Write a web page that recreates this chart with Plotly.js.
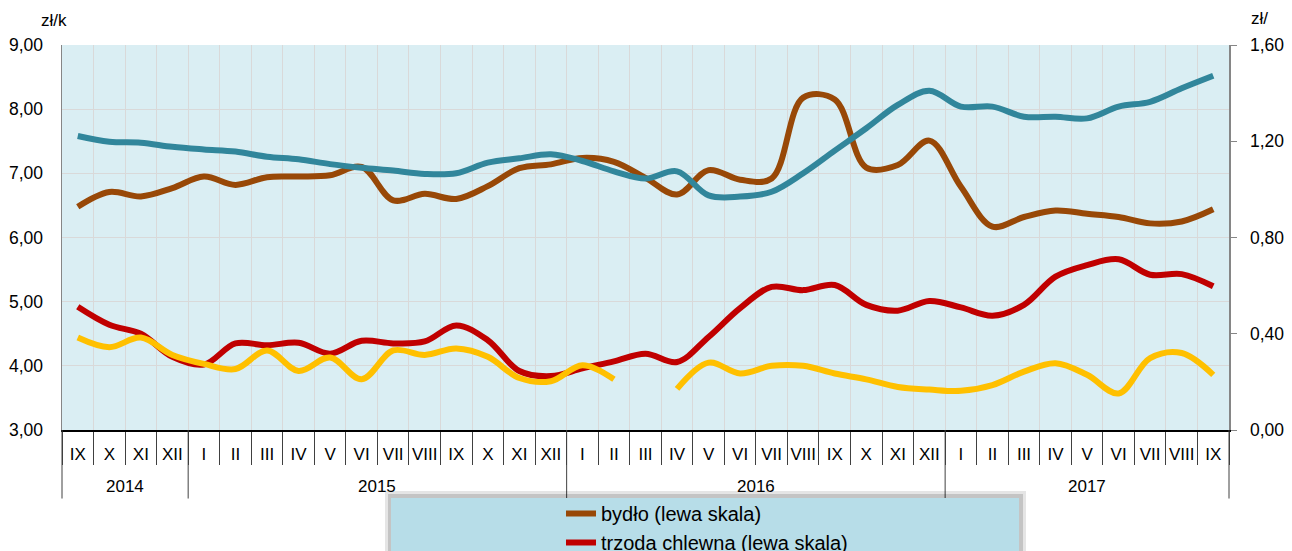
<!DOCTYPE html>
<html>
<head>
<meta charset="utf-8">
<script src="https://cdn.plot.ly/plotly-3.0.1.min.js"></script>
<style>
  html, body { margin: 0; padding: 0; background: #ffffff; }
  #chart { width: 1292px; height: 551px; }
</style>
</head>
<body>
<div id="chart"></div>
<script>
// ---- DATA ----
const months = ['IX','X','XI','XII',
  'I','II','III','IV','V','VI','VII','VIII','IX','X','XI','XII',
  'I','II','III','IV','V','VI','VII','VIII','IX','X','XI','XII',
  'I','II','III','IV','V','VI','VII','VIII','IX'];
const years = ['2014','2015','2016','2017'];
const monthsPerYear = [4, 12, 12, 9];

// bydło (left scale, zł/kg)
const bydlo = [6.48, 6.71, 6.64, 6.77, 6.95, 6.82, 6.94, 6.95, 6.97, 7.10, 6.58, 6.68,
  6.60, 6.80, 7.08, 7.14, 7.24, 7.18, 6.93, 6.67, 7.05, 6.90, 6.92, 8.18, 8.15, 7.09,
  7.13, 7.51, 6.79, 6.17, 6.32, 6.42, 6.37, 6.32, 6.22, 6.25, 6.44];
// trzoda chlewna (left scale, zł/kg)
const trzoda = [4.92, 4.64, 4.50, 4.14, 4.02, 4.35, 4.32, 4.36, 4.19, 4.39, 4.35, 4.38,
  4.63, 4.40, 3.92, 3.84, 3.96, 4.07, 4.19, 4.06, 4.45, 4.90, 5.23, 5.18, 5.26, 4.95,
  4.86, 5.01, 4.91, 4.78, 4.95, 5.39, 5.57, 5.66, 5.42, 5.43, 5.24];
// drób (left scale, zł/kg)
const drob = [4.44, 4.29, 4.44, 4.17, 4.03, 3.95, 4.24, 3.92, 4.13, 3.79, 4.24, 4.17,
  4.27, 4.14, 3.81, 3.76, 4.01, 3.79, null, 3.64, 4.05, 3.88, 4.00, 4.00, 3.88, 3.79,
  3.67, 3.63, 3.61, 3.70, 3.91, 4.04, 3.86, 3.57, 4.12, 4.20, 3.86];
// mleko (right scale, zł/l)
const mleko = [1.222, 1.198, 1.194, 1.177, 1.166, 1.157, 1.136, 1.125, 1.105, 1.090, 1.078, 1.064,
  1.067, 1.111, 1.129, 1.146, 1.118, 1.075, 1.045, 1.075, 0.975, 0.970, 0.990, 1.067, 1.161, 1.254,
  1.351, 1.410, 1.344, 1.344, 1.302, 1.302, 1.295, 1.344, 1.364, 1.420, 1.472];

const seriesNames = ['bydło (lewa skala)', 'trzoda chlewna (lewa skala)', 'drób (lewa skala)', 'mleko (prawa skala)'];

// ---- CHART ----
const xs = months.map((_, i) => i);
const n = months.length;
const FONT = 'Liberation Sans, Arial, sans-serif';

function lineTrace(y, name, color, axis) {
  return {
    x: xs, y: y, name: name, type: 'scatter', mode: 'lines', yaxis: axis,
    connectgaps: false, hoverinfo: 'skip',
    line: { color: color, width: 6, shape: 'spline', smoothing: 1 }
  };
}

const data = [
  lineTrace(bydlo, seriesNames[0], '#984807', 'y'),
  lineTrace(trzoda, seriesNames[1], '#c00000', 'y'),
  lineTrace(drob, seriesNames[2], '#ffc000', 'y'),
  lineTrace(mleko, seriesNames[3], '#31869b', 'y2')
];

// year separators and labels
const shapes = [];
const annotations = [];
const toPaper = v => (v + 0.5) / n;
let start = 0;
shapes.push({ type: 'line', xref: 'paper', yref: 'paper', x0: 0, x1: 0, y0: 0, y1: -0.178,
  line: { color: '#404040', width: 1 } });
years.forEach((yr, k) => {
  const cnt = monthsPerYear[k];
  const end = start + cnt - 1;
  annotations.push({ text: yr, xref: 'x', yref: 'paper', x: (start + end) / 2, y: -0.148,
    xanchor: 'center', yanchor: 'middle', showarrow: false, font: { size: 17, family: FONT, color: '#000' } });
  shapes.push({ type: 'line', xref: 'paper', yref: 'paper', x0: toPaper(end + 0.5), x1: toPaper(end + 0.5),
    y0: 0, y1: -0.178, line: { color: '#404040', width: 1 } });
  start += cnt;
});

// axis unit labels
annotations.push({ text: 'zł/k', xref: 'paper', yref: 'paper', x: (39 - 62) / 1167, y: (430 - 20) / 385,
  xanchor: 'left', yanchor: 'middle', showarrow: false, font: { size: 17, family: FONT, color: '#000' } });
annotations.push({ text: 'zł/', xref: 'paper', yref: 'paper', x: (1249 - 62) / 1167, y: (430 - 18) / 385,
  xanchor: 'left', yanchor: 'middle', showarrow: false, font: { size: 17, family: FONT, color: '#000' } });

// legend box with shadow
shapes.push({ type: 'rect', xref: 'paper', yref: 'paper', layer: 'above',
  x0: (385 - 62) / 1167, x1: (1026 - 62) / 1167, y0: (430 - 491) / 385, y1: (430 - 600) / 385,
  fillcolor: 'rgba(0,0,0,0.10)', line: { width: 0 } });
shapes.push({ type: 'rect', xref: 'paper', yref: 'paper', layer: 'above',
  x0: (388 - 62) / 1167, x1: (1023 - 62) / 1167, y0: (430 - 494) / 385, y1: (430 - 600) / 385,
  fillcolor: 'rgba(0,0,0,0.14)', line: { width: 0 } });
shapes.push({ type: 'rect', xref: 'paper', yref: 'paper', layer: 'above',
  x0: (391 - 62) / 1167, x1: (1019 - 62) / 1167, y0: (430 - 498) / 385, y1: (430 - 600) / 385,
  fillcolor: '#b7dde8', line: { width: 0 } });

const layout = {
  width: 1292, height: 551,
  margin: { l: 62, r: 63, t: 45, b: 121, autoexpand: false },
  paper_bgcolor: '#ffffff', plot_bgcolor: '#daeef3',
  separators: ', ',
  font: { family: FONT, size: 17, color: '#000' },
  showlegend: true,
  legend: { x: (561 - 62) / 1167, xanchor: 'left', y: (430 - 494) / 385, yanchor: 'top',
    bgcolor: 'rgba(0,0,0,0)', borderwidth: 0, font: { size: 20, family: FONT, color: '#000' },
    traceorder: 'normal' },
  xaxis: {
    range: [-0.5, n - 0.5], tickmode: 'array', tickvals: xs, ticktext: months,
    ticks: '', showgrid: false, zeroline: false, showline: true, linecolor: '#000', linewidth: 1.5,
    ticklabelstandoff: 8, tickfont: { size: 17, family: FONT, color: '#000' }, fixedrange: true,
    minor: { tickmode: 'linear', tick0: -0.5, dtick: 1, ticks: 'outside', ticklen: 33,
      tickcolor: '#404040', tickwidth: 1, showgrid: true, gridcolor: '#d9d9d9', gridwidth: 1 }
  },
  yaxis: {
    range: [3, 9], tickmode: 'linear', tick0: 3, dtick: 1, tickformat: '.2f',
    showgrid: true, gridcolor: '#d9d9d9', zeroline: false, showline: true, linecolor: '#868686',
    linewidth: 1.5, ticks: '', ticklabelstandoff: 14, tickfont: { size: 17.5, family: FONT, color: '#000' },
    fixedrange: true
  },
  yaxis2: {
    range: [0, 1.6], tickmode: 'linear', tick0: 0, dtick: 0.4, tickformat: '.2f',
    overlaying: 'y', side: 'right', showgrid: false, zeroline: false, showline: true,
    linecolor: '#868686', linewidth: 1.5, ticks: 'outside', ticklen: 6, tickcolor: '#868686',
    ticklabelstandoff: 10, tickfont: { size: 17.5, family: FONT, color: '#000' }, fixedrange: true
  },
  shapes: shapes,
  annotations: annotations
};

Plotly.newPlot('chart', data, layout, { displayModeBar: false, staticPlot: true });
</script>
</body>
</html>
